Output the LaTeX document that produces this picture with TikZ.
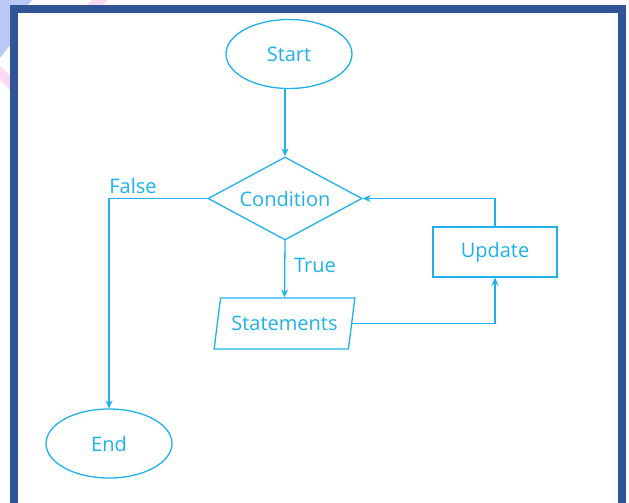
\documentclass[tikz,border=0pt]{standalone}
\usepackage{fontspec}
\setmainfont{Open Sans}
\usetikzlibrary{shapes.geometric,arrows.meta}
\definecolor{flow}{HTML}{1EB1EC}
\definecolor{frameblue}{HTML}{2F5597}
\definecolor{haze}{HTML}{B9C8F5}
\definecolor{blush}{HTML}{FBD9F5}

\tikzset{
  base/.style={draw=flow, line width=1.3pt, text=flow, inner sep=0pt,
               font=\fontsize{20}{24}\selectfont},
  terminal/.style={base, ellipse, minimum width=126pt, minimum height=69pt},
  decision/.style={base, diamond, aspect=1.85, minimum width=154pt, minimum height=83pt},
  process/.style={base, rectangle, minimum width=124pt, minimum height=50pt},
  io/.style={base, trapezium, trapezium left angle=70, trapezium right angle=110,
             trapezium stretches=true, minimum width=141pt, minimum height=51pt},
  flowline/.style={draw=flow, line width=1.3pt, -{Stealth[length=8pt,width=7pt]}},
  tag/.style={text=flow, inner sep=0pt, font=\fontsize{20}{24}\selectfont}
}

\begin{document}
\begin{tikzpicture}[x=1pt,y=-1pt]
  \useasboundingbox (0,0) rectangle (629,503);
  \fill[white] (0,0) rectangle (629,503);

  % faint decoration behind the frame corner
  \fill[haze] (0,0) -- (32,0) -- (28,5) -- (10,5) -- (10,45) -- (0,58) -- cycle;
  \fill[blush] (0,66) -- (10,76) -- (10,90) -- (0,80) -- cycle;
  \fill[blush] (92,0) -- (108,0) -- (103,5) -- (87,5) -- cycle;
  \draw[gray!70, line width=2pt] (154,5) arc (180:0:6);

  % outer frame
  \draw[frameblue, line width=8pt] (13.5,9) rectangle (622,507);

  % flowchart nodes
  \node[terminal] (start) at (289,54) {Start};
  \node[decision] (cond) at (285,198.5) {Condition};
  \node[io] (stmt) at (284.5,323.5) {Statements};
  \node[process] (upd) at (495,252) {Update};
  \node[terminal] (stop) at (109,443.5) {End};

  % branch labels
  \node[tag] (true) at (315,265) {True};
  \node[tag] (false) at (133,186) {False};

  % connectors
  \draw[flowline] (cond.north |- start.south) -- (cond.north);
  \draw[flowline] (cond.south) -- (stmt.north);
  \draw[flowline] (stmt.east) -| (upd.south);
  \draw[flowline] (upd.north) |- (cond.east);
  \draw[flowline] (cond.west) -| (stop.north);
\end{tikzpicture}
\end{document}
